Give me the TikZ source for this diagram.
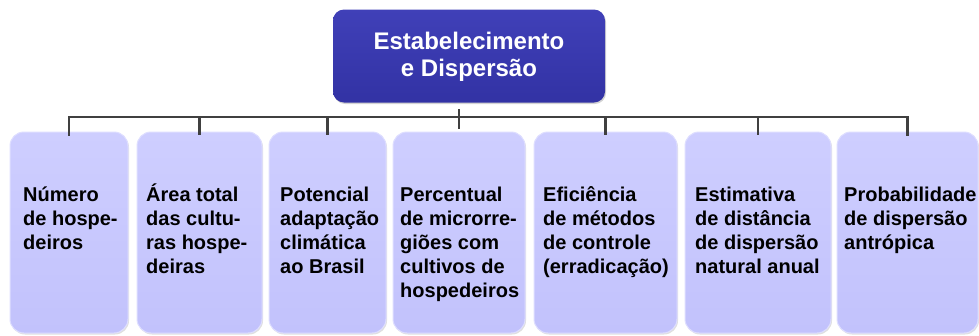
\documentclass[tikz,border=0pt]{standalone}
\usepackage{fontspec}
\setmainfont{Liberation Sans}
\usetikzlibrary{shadows,calc}
\definecolor{topblue}{RGB}{50,50,164}
\definecolor{topblueL}{RGB}{64,64,184}
\definecolor{lav}{RGB}{194,194,252}
\definecolor{lavL}{RGB}{206,206,255}
\definecolor{lavE}{RGB}{222,222,255}
\definecolor{linegray}{RGB}{64,64,64}
\begin{document}
\begin{tikzpicture}[x=1pt,y=-1pt,
  topbox/.style={draw=none, rounded corners=11pt, top color=topblueL, bottom color=topblue,
    minimum width=272pt, minimum height=93pt, inner sep=0pt,
    drop shadow={shadow xshift=1pt, shadow yshift=-1.5pt, opacity=0.35}},
  leafbox/.style={draw=lavE, line width=1pt, rounded corners=14pt, top color=lavL, bottom color=lav,
    minimum height=201pt, inner sep=0pt,
    drop shadow={shadow xshift=1pt, shadow yshift=-1.5pt, opacity=0.25}},
  leaftext/.style={anchor=base west, align=left, inner sep=0pt, text=black,
    font=\bfseries\fontsize{20}{24.2}\selectfont},
  toptext/.style={align=center, inner sep=0pt, text=white,
    font=\bfseries\fontsize{24}{26.7}\selectfont},
  conn/.style={draw=linegray, line width=2.6pt}
]
\useasboundingbox (0,0) rectangle (979,335);

% top node
\node[topbox] (top) at (469,56) {};
\node[toptext] (toptxt) at (469,57) {Estabelecimento\\e Dispersão};

% leaf boxes
\node[leafbox, minimum width=118pt] (b1) at (69,232.5) {};
\node[leafbox, minimum width=125pt] (b2) at (199.5,232.5) {};
\node[leafbox, minimum width=117pt] (b3) at (327.5,232.5) {};
\node[leafbox, minimum width=132pt] (b4) at (459,232.5) {};
\node[leafbox, minimum width=143pt] (b5) at (605.5,232.5) {};
\node[leafbox, minimum width=146pt] (b6) at (758,232.5) {};
\node[leafbox, minimum width=141pt] (b7) at (907.5,232.5) {};

% leaf texts (base anchor = baseline of last line)
\node[leaftext] (t1) at (23,249.4) {Número\\de hospe-\\deiros};
\node[leaftext] (t2) at (146,273.6) {Área total\\das cultu-\\ras hospe-\\deiras};
\node[leaftext] (t3) at (280,273.6) {Potencial\\adaptação\\climática\\ao Brasil};
\node[leaftext] (t4) at (400,297.8) {Percentual\\de microrre-\\giões com\\cultivos de\\hospedeiros};
\node[leaftext] (t5) at (543,273.6) {Eficiência\\de métodos\\de controle\\(erradicação)};
\node[leaftext] (t6) at (695,273.6) {Estimativa\\de distância\\de dispersão\\natural anual};
\node[leaftext] (t7) at (844,249.4) {Probabilidade\\de dispersão\\antrópica};

% connectors
\coordinate (hub) at (459,117);
\coordinate (stemtop) at (459,109);
\coordinate (stembot) at (459,129);
\draw[conn] (stemtop) -- (stembot);
\draw[conn, line cap=rect] ([yshift=-3pt]b1.north) |- (hub) -| ([yshift=-3pt]b7.north);
\foreach \b in {b2,b3,b5,b6}{
  \draw[conn] ([yshift=-3pt]\b.north) -- (\b.north |- hub);
}
\end{tikzpicture}
\end{document}
